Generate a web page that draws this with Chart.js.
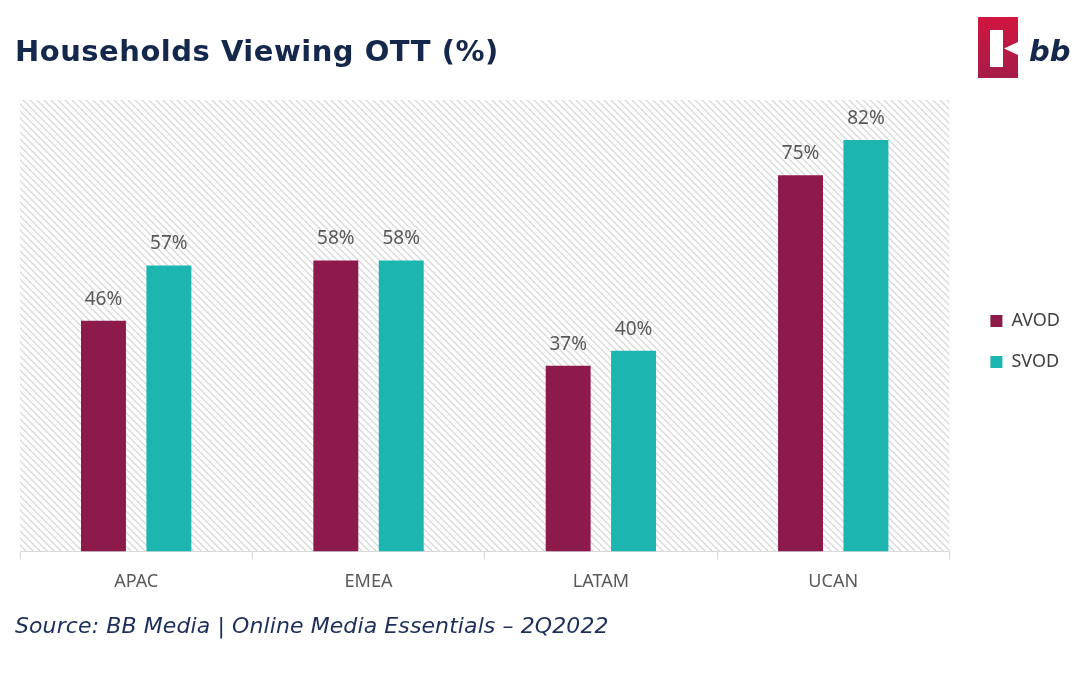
<!DOCTYPE html>
<html lang="en">
<head>
<meta charset="UTF-8">
<script src="https://cdn.jsdelivr.net/npm/chart.js"></script>
<title>Households Viewing OTT (%)</title>
<style>
  body { margin: 0; background: #fff; }
  .pagina { position: relative; width: 1080px; height: 675px; overflow: hidden; }
  .titulo { position: absolute; left: 15px; top: 37px; margin: 0; font-family: "DejaVu Sans", sans-serif;
            font-weight: bold; font-size: 29px; line-height: 1; color: #14284b; letter-spacing: 0.5px; }
  .fonte { position: absolute; left: 15px; top: 615px; margin: 0; font-family: "DejaVu Sans", sans-serif;
           font-style: italic; font-size: 22px; line-height: 1; color: #1c2f5c; letter-spacing: 0.1px; }
  .logo { position: absolute; left: 976px; top: 16px; }
  .grafico { position: absolute; left: 0; top: 0; width: 1080px; height: 675px; }
</style>
</head>
<body>
<div class="pagina">
  <div class="grafico"><canvas id="grafico1"></canvas></div>
  <h1 class="titulo">Households Viewing OTT (%)</h1>
  <p class="fonte">Source: BB Media | Online Media Essentials – 2Q2022</p>
  <svg class="logo" width="100" height="66" viewBox="0 0 100 66">
    <defs>
      <linearGradient id="grad" x1="0" y1="0" x2="0" y2="1">
        <stop offset="0" stop-color="#d0163f"/>
        <stop offset="1" stop-color="#a51c48"/>
      </linearGradient>
    </defs>
    <rect x="2" y="1" width="40" height="61" fill="url(#grad)"/>
    <rect x="14" y="14" width="13" height="37" fill="#fff"/>
    <polygon points="28,32.5 42,26 42,39" fill="#fff"/>
    <text x="53" y="45" font-family="DejaVu Sans, sans-serif" font-weight="700" font-style="italic" font-size="29" fill="#14284b">bb</text>
  </svg>
</div>

<script>
  // dados
  var regioes = ['APAC', 'EMEA', 'LATAM', 'UCAN'];
  var avod = [46, 58, 37, 75];
  var svod = [57, 58, 40, 82];

  // fundo listrado da área do gráfico
  function criarListras() {
    var t = 7;
    var c = document.createElement('canvas');
    c.width = t; c.height = t;
    var g = c.getContext('2d');
    g.fillStyle = '#ffffff';
    g.fillRect(0, 0, t, t);
    g.strokeStyle = '#d8d8d8';
    g.lineWidth = 1.3;
    g.beginPath();
    g.moveTo(-1, -1); g.lineTo(t + 1, t + 1);
    g.moveTo(-1, t - 1); g.lineTo(1, t + 1);
    g.moveTo(t - 1, -1); g.lineTo(t + 1, 1);
    g.stroke();
    return c;
  }

  const fundoListrado = {
    id: 'fundoListrado',
    beforeDraw(chart) {
      var ctx = chart.ctx;
      var a = chart.chartArea;
      ctx.save();
      ctx.fillStyle = ctx.createPattern(criarListras(), 'repeat');
      ctx.fillRect(a.left, a.top, a.right - a.left, a.bottom - a.top);
      ctx.restore();
    }
  };

  // rótulos em cima das barras
  const rotulos = {
    id: 'rotulos',
    afterDatasetsDraw(chart) {
      var ctx = chart.ctx;
      ctx.save();
      ctx.font = '19px "Noto Sans", sans-serif';
      ctx.fillStyle = '#595959';
      ctx.textAlign = 'center';
      ctx.textBaseline = 'bottom';
      chart.data.datasets.forEach(function (ds, i) {
        chart.getDatasetMeta(i).data.forEach(function (bar, j) {
          ctx.fillText(ds.data[j] + '%', bar.x, bar.y - 12);
        });
      });
      ctx.restore();
    }
  };

  // legenda um pouco afastada do gráfico
  const ajusteLegenda = {
    id: 'ajusteLegenda',
    beforeInit(chart) {
      var fitOriginal = chart.legend.fit;
      chart.legend.fit = function () {
        fitOriginal.bind(chart.legend)();
        this.width += 28;
      };
    },
    afterLayout(chart) {
      chart.legend.left += 18;
      chart.legend.right += 18;
      chart.legend.top -= 11;
      chart.legend.bottom -= 11;
    }
  };

  const config = {
    type: 'bar',
    data: {
      labels: regioes,
      datasets: [
        { label: 'AVOD', data: avod, backgroundColor: '#8c1a4b' },
        { label: 'SVOD', data: svod, backgroundColor: '#1cb5b0' }
      ]
    },
    options: {
      responsive: false,
      animation: false,
      categoryPercentage: 0.563,
      barPercentage: 0.687,
      layout: { padding: { left: 20, top: 100, bottom: 70, right: 0 } },
      plugins: {
        legend: {
          position: 'right',
          labels: {
            boxWidth: 12,
            boxHeight: 12,
            padding: 23,
            color: '#404040',
            font: { family: '"Noto Sans", sans-serif', size: 18 }
          }
        },
        tooltip: { enabled: false }
      },
      scales: {
        x: {
          grid: { drawOnChartArea: false, drawTicks: true, tickLength: 8, color: '#d9d9d9' },
          border: { color: '#d9d9d9', width: 1 },
          ticks: { color: '#595959', padding: 12, font: { family: '"Noto Sans", sans-serif', size: 18 } }
        },
        y: {
          display: false,
          min: 0,
          max: 90
        }
      }
    },
    plugins: [fundoListrado, rotulos, ajusteLegenda]
  };

  var canvas = document.getElementById('grafico1');
  canvas.width = 1080;
  canvas.height = 675;
  new Chart(canvas, config);
</script>
</body>
</html>
